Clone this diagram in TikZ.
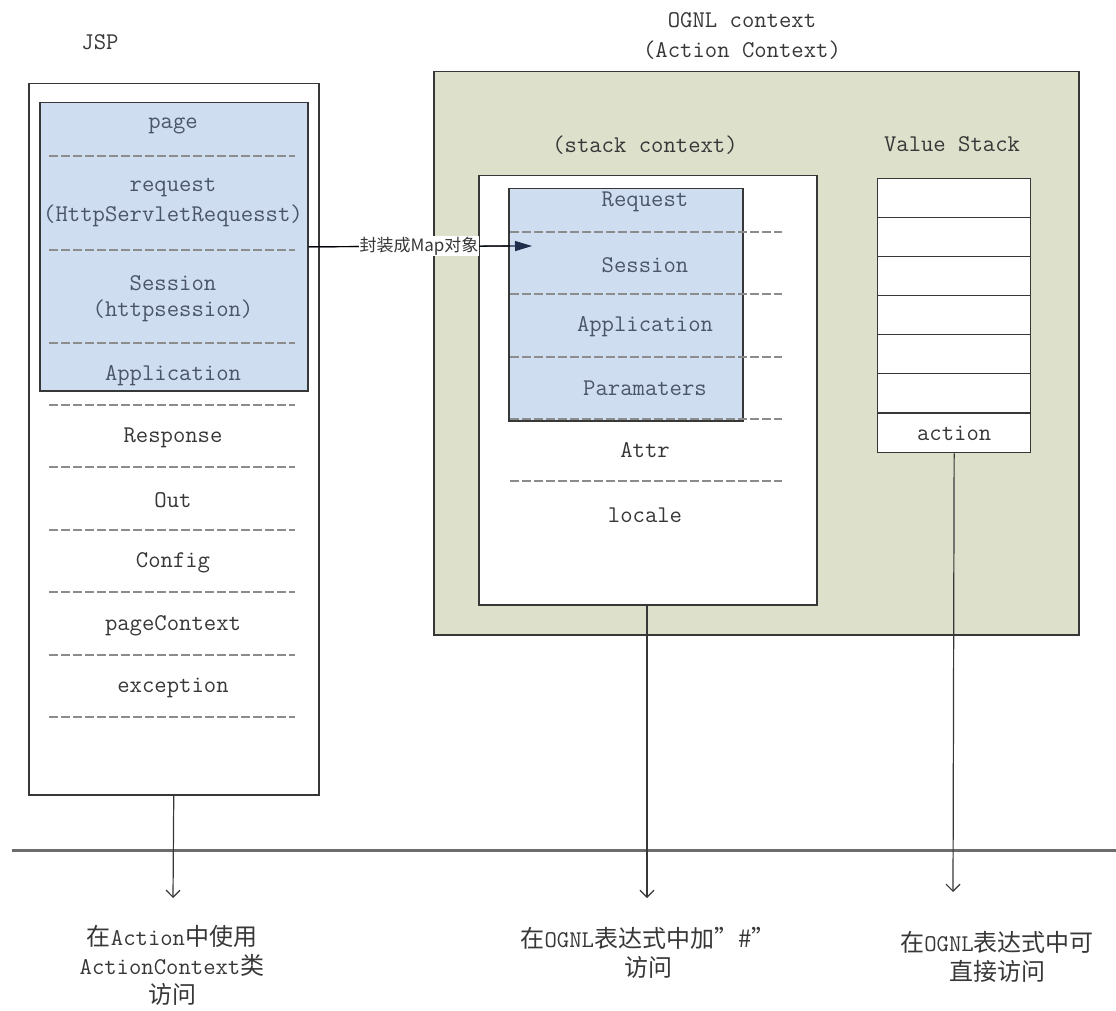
\documentclass[tikz,border=0pt]{standalone}
\usepackage{fontspec}
\newfontfamily\cjk{Noto Sans CJK SC}
\usetikzlibrary{arrows.meta}
\definecolor{ognlgreen}{RGB}{221,225,204}
\definecolor{lightblue}{RGB}{207,221,241}
\definecolor{bordergray}{RGB}{55,55,55}
\definecolor{bluetext}{RGB}{75,85,105}
\definecolor{txtgray}{RGB}{55,55,55}
\definecolor{dashgray}{RGB}{140,140,140}
\definecolor{navy}{RGB}{30,45,75}
\newcommand\zhc[1]{{\cjk #1}}
\begin{document}
\begin{tikzpicture}[x=1pt,y=-1pt,
  boxw/.style={draw=bordergray, line width=1.5pt, fill=white, inner sep=0pt, anchor=north west},
  boxg/.style={draw=bordergray, line width=1.5pt, fill=ognlgreen, inner sep=0pt, anchor=north west},
  boxb/.style={draw=bordergray, line width=1.5pt, fill=lightblue, inner sep=0pt, anchor=north west},
  mono/.style={font=\fontsize{24}{28}\selectfont\ttfamily, text=txtgray, inner sep=0pt},
  monob/.style={mono, text=bluetext},
  sep/.style={draw=dashgray, line width=1.1pt, dash pattern=on 9pt off 3pt},
  down/.style={draw=bordergray, line width=1.2pt, -{Straight Barb[length=7pt,width=14pt]}},
  bottomlbl/.style={font=\fontsize{24}{29}\selectfont\ttfamily, text=txtgray, align=center, inner sep=0pt},
  vsrow/.style={draw=bordergray, line width=1.3pt, fill=white, minimum width=153pt, minimum height=39pt, inner sep=0pt, anchor=north west, font=\fontsize{24}{28}\selectfont\ttfamily, text=txtgray}
]
\useasboundingbox (0,0) rectangle (1116,1011);

% ---------- JSP ----------
\node[mono] (jsptitle) at (100,42) {JSP};
\node[boxw, minimum width=290pt, minimum height=711pt] (jsp) at (28,83) {};
\node[boxb, minimum width=268pt, minimum height=288pt] (jspblue) at (39,102) {};

\node[monob] (tpage) at (173,126) {page};
\draw[sep] (49,156) -- (295,156);
\node[monob] (treq) at (173,188) {request};
\node[monob] (treq2) at (173,216) {(HttpServletRequesst)};
\draw[sep] (49,250) -- (295,250);
\node[monob] (tses) at (173,283) {Session};
\node[monob] (tses2) at (173,311) {(httpsession)};
\draw[sep] (49,343) -- (295,343);
\node[monob] (tapp) at (173,376) {Application};
\draw[sep] (49,405) -- (295,405);
\node[mono] (tresp) at (173,438) {Response};
\draw[sep] (49,467) -- (295,467);
\node[mono] (tout) at (173,500) {Out};
\draw[sep] (49,530) -- (295,530);
\node[mono] (tcfg) at (173,563) {Config};
\draw[sep] (49,592) -- (295,592);
\node[mono] (tpc) at (173,626) {pageContext};
\draw[sep] (49,655) -- (295,655);
\node[mono] (texc) at (173,688) {exception};
\draw[sep] (49,717) -- (295,717);

% ---------- OGNL context ----------
\node[mono] (ognlt1) at (742,20) {OGNL context};
\node[mono] (ognlt2) at (742,50) {(Action Context)};
\node[boxg, minimum width=645pt, minimum height=563pt] (ognl) at (433,71) {};

\node[mono] (sctitle) at (645,145) {(stack context)};
\node[boxw, minimum width=338pt, minimum height=429pt] (stack) at (478,175) {};
\node[boxb, minimum width=234pt, minimum height=232pt] (stackblue) at (508,188) {};

\node[monob] (sreq) at (645,202) {Request};
\draw[sep] (510,232) -- (782,232);
\node[monob] (sses) at (645,265) {Session};
\draw[sep] (510,294) -- (782,294);
\node[monob] (sapp) at (645,327) {Application};
\draw[sep] (510,357) -- (782,357);
\node[monob] (spar) at (645,388) {Paramaters};
\draw[sep] (510,419) -- (782,419);
\node[mono] (sattr) at (645,450) {Attr};
\draw[sep] (510,481) -- (782,481);
\node[mono] (sloc) at (645,515) {locale};

% ---------- Value Stack ----------
\node[mono] (vstitle) at (952,144) {Value Stack};
\node[vsrow] (vs1) at (877,178) {};
\node[vsrow] (vs2) at (877,217) {};
\node[vsrow] (vs3) at (877,256) {};
\node[vsrow] (vs4) at (877,295) {};
\node[vsrow] (vs5) at (877,334) {};
\node[vsrow] (vs6) at (877,373) {};
\node[vsrow] (vs7) at (877,413) {action};

% ---------- map arrow ----------
\coordinate (maptip) at (532,246);
\draw[draw=black, line width=1.2pt, -{Triangle[length=17pt,width=10pt]}, navy]
  (jspblue.east) -- (maptip);
\draw[line width=1.2pt, black] (jspblue.east) -- (510,246);
\node[fill=white, inner sep=1pt, text=txtgray, font=\cjk\fontsize{17}{20}\selectfont] (maplbl) at (419,246) {封装成Map对象};

% ---------- divider ----------
\coordinate (hl) at (12,850);
\coordinate (hr) at (1116,850);
\draw[draw=gray!85!black, line width=3pt] (hl) -- (hr);

% ---------- bottom arrows and labels ----------
\coordinate (t1) at (173,898);
\coordinate (t2) at (647,898);
\coordinate (t3) at (953,892);
\draw[down] (jsp.south) -- (t1);
\draw[down] (stack.south -| t2) -- (t2);
\draw[down] (vs7.south) -- (t3);

\node[bottomlbl] (lbl1) at (172,965) {\zhc{在}Action\zhc{中使用}\\ActionContext\zhc{类}\\\zhc{访问}};
\node[bottomlbl] (lbl2) at (648,953) {\zhc{在}OGNL\zhc{表达式中加”\#”}\\\zhc{访问}};
\node[bottomlbl] (lbl3) at (997,957) {\zhc{在}OGNL\zhc{表达式中可}\\\zhc{直接访问}};
\end{tikzpicture}
\end{document}
